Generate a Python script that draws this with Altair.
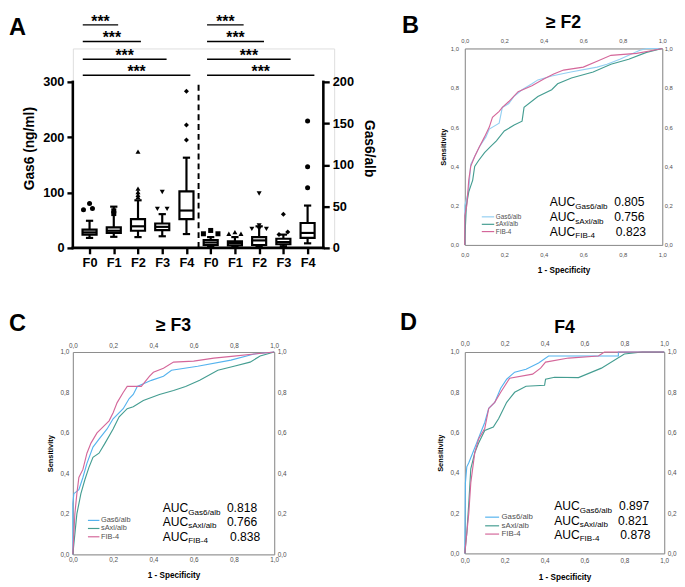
import altair as alt
import pandas as pd

FONT = "Liberation Sans"

# ---------------- Panel A : box plots ----------------
stages = ["F0", "F1", "F2", "F3", "F4"]

# Gas6 (ng/ml)
gas6_low = [18, 20, 19.5, 21, 25]
gas6_q1 = [24, 27, 31, 32, 52]
gas6_med = [28, 31, 39, 38, 67.5]
gas6_q3 = [33, 37, 52, 44, 102]
gas6_high = [49, 74.5, 86, 61, 163]
gas6_shapes = ["circle", "square", "triangle-up", "triangle-down", "diamond"]
gas6_out_stage = ["F0", "F0", "F0", "F1", "F1", "F2", "F2", "F2", "F2", "F2",
                  "F3", "F3", "F3", "F4", "F4", "F4"]
gas6_out_val = [69, 71, 80, 62, 67, 92, 96, 101, 107, 174,
                70.5, 70.5, 101, 195, 222, 283]
gas6_out_dx = [-0.25, 0.12, 0, 0, 0, 0, 0, 0, 0, 0,
               -0.2, 0.2, 0, 0, 0, 0]

# Gas6/alb
alb_low = [1, 1.5, 1.5, 2, 5.5]
alb_q1 = [3.5, 3, 3.5, 4.4, 12]
alb_med = [6.5, 6, 9, 7, 18]
alb_q3 = [9.5, 8, 13, 11, 30]
alb_high = [13, 13, 26, 16, 51]
alb_shapes = ["square", "triangle-up", "triangle-down", "diamond", "circle"]
alb_out_stage = ["F0", "F0", "F0", "F1", "F1", "F1", "F2", "F2", "F2", "F2", "F2",
                 "F3", "F3", "F3", "F4", "F4", "F4"]
alb_out_val = [17, 21, 17, 17, 19, 17, 23, 23, 23, 27, 65.5,
               16, 19, 40.6, 72.5, 97.8, 153]
alb_out_dx = [-0.3, 0, 0.3, -0.25, 0, 0.25, -0.3, 0, 0.3, 0, 0,
              -0.18, 0.18, 0, 0, 0, 0]

# axis ranges
gas6_max = 300
alb_max = 200
gas6_ticks = [0, 100, 200, 300]
alb_ticks = [0, 50, 100, 150, 200]

# significance brackets (drawn above the Gas6 axis, in Gas6 units)
sig_left_start = -0.28
sig_left_end = [1.18, 2.12, 3.18, 4.16]
sig_right_start = 4.85
sig_right_end = [6.36, 7.2, 8.3, 9.28]
sig_levels = [403, 373, 341, 312]
sig_text = "***"

# ---------------- ROC data ----------------
series = ["Gas6/alb", "sAxl/alb", "FIB-4"]
auc_label = "AUC"

# >= F2
b_gas6_fpr = [0, 0, 0.01, 0.02, 0.03, 0.05, 0.074, 0.107, 0.124, 0.174, 0.19, 0.223, 0.248,
              0.29, 0.34, 0.37, 0.44, 0.537, 0.67, 0.72, 0.785, 0.884, 0.92, 1.0]
b_gas6_tpr = [0, 0.2, 0.24, 0.28, 0.41, 0.45, 0.5, 0.55, 0.59, 0.62, 0.7, 0.72, 0.755,
              0.79, 0.82, 0.84, 0.86, 0.88, 0.905, 0.92, 0.945, 0.99, 1.0, 1.0]
b_saxl_fpr = [0, 0, 0.008, 0.02, 0.04, 0.05, 0.07, 0.1, 0.13, 0.16, 0.2, 0.25, 0.29, 0.3,
              0.37, 0.44, 0.47, 0.54, 0.65, 0.74, 0.83, 0.92, 1.0]
b_saxl_tpr = [0, 0.03, 0.2, 0.27, 0.33, 0.4, 0.43, 0.47, 0.5, 0.53, 0.58, 0.61, 0.63, 0.7,
              0.755, 0.79, 0.82, 0.85, 0.88, 0.92, 0.945, 0.98, 1.0]
b_fib4_fpr = [0, 0, 0.01, 0.02, 0.03, 0.05, 0.074, 0.1, 0.124, 0.14, 0.174, 0.19, 0.223,
              0.27, 0.34, 0.4, 0.45, 0.5, 0.6, 0.67, 0.74, 0.87, 0.95, 1.0]
b_fib4_tpr = [0, 0.15, 0.2, 0.33, 0.4, 0.45, 0.5, 0.55, 0.6, 0.65, 0.68, 0.7, 0.73,
              0.78, 0.81, 0.845, 0.87, 0.89, 0.905, 0.935, 0.965, 0.975, 0.99, 1.0]
b_auc = ["0.805", "0.756", "0.823"]

# >= F3
c_gas6_fpr = [0, 0, 0.005, 0.03, 0.05, 0.07, 0.1, 0.13, 0.17, 0.2, 0.25, 0.28, 0.3, 0.32,
              0.39, 0.45, 0.49, 0.62, 0.785, 0.9, 1.0]
c_gas6_tpr = [0, 0.25, 0.3, 0.32, 0.38, 0.45, 0.53, 0.57, 0.62, 0.67, 0.72, 0.77, 0.79, 0.83,
              0.86, 0.88, 0.91, 0.93, 0.96, 0.99, 1.0]
c_saxl_fpr = [0, 0.01, 0.02, 0.04, 0.06, 0.08, 0.1, 0.13, 0.16, 0.2, 0.23, 0.27, 0.3, 0.35,
              0.43, 0.5, 0.56, 0.63, 0.72, 0.8, 0.88, 0.93, 1.0]
c_saxl_tpr = [0, 0.1, 0.2, 0.3, 0.37, 0.43, 0.48, 0.5, 0.55, 0.62, 0.68, 0.72, 0.73, 0.76,
              0.79, 0.81, 0.83, 0.86, 0.91, 0.93, 0.95, 0.98, 1.0]
c_fib4_fpr = [0, 0.005, 0.01, 0.02, 0.03, 0.05, 0.07, 0.09, 0.12, 0.15, 0.18, 0.2, 0.22,
              0.25, 0.27, 0.34, 0.38, 0.4, 0.45, 0.5, 0.6, 0.7, 0.8, 0.9, 1.0]
c_fib4_tpr = [0, 0.1, 0.2, 0.3, 0.38, 0.42, 0.5, 0.55, 0.6, 0.63, 0.66, 0.7, 0.75,
              0.8, 0.83, 0.83, 0.88, 0.9, 0.92, 0.95, 0.955, 0.97, 0.98, 0.99, 1.0]
c_auc = ["0.818", "0.766", "0.838"]

# F4
d_gas6_fpr = [0, 0.003, 0.01, 0.02, 0.04, 0.06, 0.08, 0.1, 0.12, 0.15, 0.18, 0.21, 0.25,
              0.307, 0.37, 0.42, 0.5, 0.77, 0.77, 1.0]
d_gas6_tpr = [0, 0.35, 0.43, 0.45, 0.5, 0.55, 0.6, 0.65, 0.72, 0.75, 0.82, 0.865, 0.9,
              0.914, 0.946, 0.98, 0.98, 0.98, 1.0, 1.0]
d_saxl_fpr = [0, 0.01, 0.02, 0.03, 0.05, 0.07, 0.1, 0.143, 0.17, 0.21, 0.25, 0.307, 0.4,
              0.405, 0.45, 0.57, 0.685, 0.8, 0.89, 1.0]
d_saxl_tpr = [0, 0.1, 0.25, 0.42, 0.5, 0.55, 0.61, 0.628, 0.67, 0.75, 0.8, 0.83, 0.835,
              0.865, 0.875, 0.873, 0.92, 0.99, 1.0, 1.0]
d_fib4_fpr = [0, 0.01, 0.02, 0.03, 0.05, 0.07, 0.1, 0.12, 0.15, 0.18, 0.225, 0.34, 0.38,
              0.405, 0.52, 0.67, 0.7, 1.0]
d_fib4_tpr = [0, 0.1, 0.2, 0.35, 0.5, 0.57, 0.62, 0.72, 0.75, 0.8, 0.87, 0.89, 0.92,
              0.95, 0.97, 0.98, 1.0, 1.0]
d_auc = ["0.897", "0.821", "0.878"]

roc_ticks = [0, 0.2, 0.4, 0.6, 0.8, 1.0]

# ---------------- Panel A construction ----------------
HALF = 0.29
CAP = 0.15
LW = 2.2
A_W, A_H = 266, 203             # layout box of panel A
X_LO, X_HI = -0.69, 9.65        # drawn x extent (left axis .. right axis)
X_BOX_HI = X_LO + (X_HI - X_LO) * A_W / 255.0
Y_BOX_HI = gas6_max * A_H / 169.0
RATIO = gas6_max / alb_max      # right-axis units -> left-axis units

xs = alt.Scale(domain=[X_LO, X_BOX_HI], nice=False, zero=False)
ys = alt.Scale(domain=[0, Y_BOX_HI], nice=False, zero=False)

tick_common = dict(grid=False, domain=False, ticks=True, tickColor="#000000",
                   tickWidth=2.4, tickSize=6, labelFont=FONT, labelFontWeight="bold",
                   labelFontSize=13, labelColor="#000000", labelPadding=3,
                   labelOverlap=False, labelFlush=False, labelBound=False,
                   titleFont=FONT, titleFontWeight="bold", titleFontSize=14,
                   titleColor="#000000")

x_axis = alt.Axis(values=list(range(10)),
                  labelExpr="datum.value < 5 ? 'F' + datum.value : 'F' + (datum.value - 5)",
                  title=None, orient="bottom", **tick_common)
yl_axis = alt.Axis(values=gas6_ticks, title="Gas6 (ng/ml)", titlePadding=6,
                   orient="left", **tick_common)
yr_axis = alt.Axis(values=[v * RATIO for v in alb_ticks],
                   labelExpr=f"format(datum.value / {RATIO}, 'd')",
                   title="Gas6/alb", titlePadding=8, orient="right", titleAngle=90,
                   offset=255 - A_W, **tick_common)


def box_df(low, q1, med, q3, high, offset, scale):
    return pd.DataFrame({"stage": stages, "pos": [i + offset for i in range(5)],
                         "low": low, "q1": q1, "med": med, "q3": q3, "high": high,
                         "k": [scale] * 5})


def out_df(stage_list, vals, dxs, shapes, offset, scale):
    idx = {s: i for i, s in enumerate(stages)}
    return pd.DataFrame({
        "pos": [idx[s] + offset + d for s, d in zip(stage_list, dxs)],
        "val": vals,
        "shape": [shapes[idx[s]] for s in stage_list],
        "k": [scale] * len(vals),
    })


left_box = box_df(gas6_low, gas6_q1, gas6_med, gas6_q3, gas6_high, 0, 1.0)
right_box = box_df(alb_low, alb_q1, alb_med, alb_q3, alb_high, 5, RATIO)
all_box = pd.concat([left_box, right_box], ignore_index=True)
all_out = pd.concat([
    out_df(gas6_out_stage, gas6_out_val, gas6_out_dx, gas6_shapes, 0, 1.0),
    out_df(alb_out_stage, alb_out_val, alb_out_dx, alb_shapes, 5, RATIO),
], ignore_index=True)

boxbase = alt.Chart(all_box).transform_calculate(
    lo="datum.low * datum.k", hi="datum.high * datum.k", a="datum.q1 * datum.k",
    b="datum.q3 * datum.k", m="datum.med * datum.k",
    b0=f"datum.pos - {HALF}", b1=f"datum.pos + {HALF}",
    c0=f"datum.pos - {CAP}", c1=f"datum.pos + {CAP}")

# axis lines (left, right, bottom) drawn on the same scales; this layer carries the axes
axis_lines = pd.DataFrame({"x0": [X_LO, X_HI, X_LO], "x1": [X_LO, X_HI, X_HI],
                           "y0": [0, 0, 0], "y1": [gas6_max, gas6_max, 0]})
axlines = alt.Chart(axis_lines).mark_rule(color="#000000", strokeWidth=2.6,
                                          strokeCap="square").encode(
    x=alt.X("x0:Q", scale=xs, axis=x_axis), x2="x1:Q",
    y=alt.Y("y0:Q", scale=ys, axis=yl_axis), y2="y1:Q")

whisk = boxbase.mark_rule(color="black", strokeWidth=LW).encode(
    x=alt.X("pos:Q", scale=xs, axis=None),
    y=alt.Y("lo:Q", scale=ys, axis=yr_axis), y2="hi:Q")
cap_lo = boxbase.mark_rule(color="black", strokeWidth=LW).encode(
    x=alt.X("c0:Q", scale=xs, axis=None), x2="c1:Q",
    y=alt.Y("lo:Q", scale=ys, axis=None))
cap_hi = boxbase.mark_rule(color="black", strokeWidth=LW).encode(
    x=alt.X("c0:Q", scale=xs, axis=None), x2="c1:Q",
    y=alt.Y("hi:Q", scale=ys, axis=None))
box = boxbase.mark_rect(fill="white", stroke="black", strokeWidth=LW).encode(
    x=alt.X("b0:Q", scale=xs, axis=None), x2="b1:Q",
    y=alt.Y("a:Q", scale=ys, axis=None), y2="b:Q")
med = boxbase.mark_rule(color="black", strokeWidth=LW).encode(
    x=alt.X("b0:Q", scale=xs, axis=None), x2="b1:Q",
    y=alt.Y("m:Q", scale=ys, axis=None))
pts = alt.Chart(all_out).transform_calculate(v="datum.val * datum.k").mark_point(
    filled=True, size=26, color="black", opacity=1).encode(
    x=alt.X("pos:Q", scale=xs, axis=None),
    y=alt.Y("v:Q", scale=ys, axis=None),
    shape=alt.Shape("shape:N", scale=None))

sig_df = pd.DataFrame({
    "start": [sig_left_start] * 4 + [sig_right_start] * 4,
    "end": sig_left_end + sig_right_end,
    "level": sig_levels + sig_levels,
    "t": [sig_text] * 8,
})
sig_df["mid"] = (sig_df["start"] + sig_df["end"]) / 2

sig_rules = alt.Chart(sig_df).mark_rule(color="black", strokeWidth=1.5).encode(
    x=alt.X("start:Q", scale=xs, axis=None), x2="end:Q",
    y=alt.Y("level:Q", scale=ys, axis=None))
sig_texts = alt.Chart(sig_df).mark_text(font=FONT, fontWeight="bold", fontSize=16,
                                        baseline="alphabetic", dy=2, color="black").encode(
    x=alt.X("mid:Q", scale=xs, axis=None),
    y=alt.Y("level:Q", scale=ys, axis=None), text="t:N")

divider = alt.Chart(pd.DataFrame({"x": [4.5], "y0": [0], "y1": [gas6_max]})).mark_rule(
    color="black", strokeWidth=2, strokeDash=[6, 4]).encode(
    x=alt.X("x:Q", scale=xs, axis=None),
    y=alt.Y("y0:Q", scale=ys, axis=None), y2="y1:Q")


def letter_layer(letter, x, y, size=24):
    return alt.Chart(pd.DataFrame({"t": [letter]})).mark_text(
        font=FONT, fontWeight="bold", fontSize=size, align="left", baseline="middle",
        color="black").encode(text="t:N", x=alt.value(x), y=alt.value(y))


panel_a = alt.layer(
    axlines, whisk, cap_hi, cap_lo, box, med, pts, divider, sig_rules, sig_texts,
    letter_layer("A", -65, -21)
).resolve_axis(x="independent", y="independent").properties(width=A_W, height=A_H)


# ---------------- ROC panels ----------------
def roc_axis(orient, pad, fs, title=None, tfs=8.3, tpad=6):
    return alt.Axis(orient=orient, values=roc_ticks,
                    labelExpr="replace(format(datum.value, '.1f'), '.', ',')",
                    grid=False, ticks=False, domainColor="#8c8c8c", domainWidth=1,
                    labelFont=FONT, labelFontSize=fs, labelColor="#505050", labelPadding=pad,
                    labelFlush=False, labelOverlap=False, labelBound=False,
                    title=title, titleFont=FONT, titleFontWeight="bold", titleFontSize=tfs,
                    titleColor="black", titlePadding=tpad)


def roc_panel(curves, colors, title, letter, aucs, w, h, tick_fs, pads, xtpad, ytpad,
              auc_x, auc_vx, auc_y, leg_x0, leg_x1, leg_tx, leg_y, leg_fs,
              title_y, letter_x, letter_y):
    sx = alt.Scale(domain=[0, 1], nice=False, zero=False)
    sy = alt.Scale(domain=[0, 1], nice=False, zero=False)
    rows = []
    for s, col, (fx, ty) in zip(series, colors, curves):
        for i, (a, b) in enumerate(zip(fx, ty)):
            rows.append({"series": s, "col": col, "i": i, "fpr": a, "tpr": b})
    cdf = pd.DataFrame(rows)
    lines = alt.Chart(cdf).mark_line(strokeWidth=1.15).encode(
        x=alt.X("fpr:Q", scale=sx, axis=roc_axis("bottom", pads[0], tick_fs,
                                                   "1 - Specificity", 8.3, xtpad)),
        y=alt.Y("tpr:Q", scale=sy, axis=roc_axis("left", pads[2], tick_fs,
                                                  "Sensitivity", 7.6, ytpad)),
        color=alt.Color("col:N", scale=None),
        detail="series:N",
        order="i:Q")
    ldf = pd.DataFrame({"series": series, "col": colors, "x0": [leg_x0] * 3,
                        "x1": [leg_x1] * 3, "tx": [leg_tx] * 3, "y": leg_y})
    leg_rules = alt.Chart(ldf).mark_rule(strokeWidth=1.2).encode(
        x=alt.X("x0:Q", scale=sx, axis=roc_axis("top", pads[1], tick_fs)), x2="x1:Q",
        y=alt.Y("y:Q", scale=sy, axis=roc_axis("right", pads[3], tick_fs)),
        color=alt.Color("col:N", scale=None))
    leg_text = alt.Chart(ldf).mark_text(font=FONT, fontSize=leg_fs, color="#505050",
                                        align="left", baseline="middle").encode(
        x=alt.X("tx:Q", scale=sx, axis=None), y=alt.Y("y:Q", scale=sy, axis=None),
        text="series:N")
    adf = pd.DataFrame({"main": [auc_label] * 3, "sub": series, "val": aucs,
                        "x": [auc_x] * 3, "vx": auc_vx, "y": auc_y})
    auc_main = alt.Chart(adf).mark_text(font=FONT, fontSize=12.3, color="black",
                                        align="left", baseline="middle").encode(
        x=alt.X("x:Q", scale=sx, axis=None), y=alt.Y("y:Q", scale=sy, axis=None),
        text="main:N")
    auc_sub = alt.Chart(adf).mark_text(font=FONT, fontSize=8.2, color="black",
                                       align="left", baseline="middle", dx=26, dy=4.5).encode(
        x=alt.X("x:Q", scale=sx, axis=None), y=alt.Y("y:Q", scale=sy, axis=None),
        text="sub:N")
    auc_val = alt.Chart(adf).mark_text(font=FONT, fontSize=12.3, color="black",
                                       align="left", baseline="middle").encode(
        x=alt.X("vx:Q", scale=sx, axis=None), y=alt.Y("y:Q", scale=sy, axis=None),
        text="val:N")
    ttl = alt.Chart(pd.DataFrame({"t": [title]})).mark_text(
        font=FONT, fontWeight="bold", fontSize=18, align="center", baseline="middle",
        color="black").encode(text="t:N", x=alt.value(w / 2), y=alt.value(title_y))
    return alt.layer(lines, leg_rules, leg_text, auc_main, auc_sub, auc_val, ttl,
                     letter_layer(letter, letter_x, letter_y)).resolve_axis(
        x="independent", y="independent").properties(width=w, height=h)


colors_b = ["#93cff2", "#449d91", "#d4679a"]
colors_cd = ["#55b3ee", "#449d91", "#d4679a"]

panel_b = roc_panel(
    [(b_gas6_fpr, b_gas6_tpr), (b_saxl_fpr, b_saxl_tpr), (b_fib4_fpr, b_fib4_tpr)],
    colors_b, "≥ F2", "B", b_auc, 201, 200, 6, (7, 5.5, 6.5, 2), 8, 3,
    0.43, [0.757, 0.757, 0.765], [0.216, 0.141, 0.068],
    0.086, 0.149, 0.157, [0.143, 0.105, 0.068], 6.5, -26, -64, -23)

panel_c = roc_panel(
    [(c_gas6_fpr, c_gas6_tpr), (c_saxl_fpr, c_saxl_tpr), (c_fib4_fpr, c_fib4_tpr)],
    colors_cd, "≥ F3", "C", c_auc, 205, 206, 6.5, (2.5, 4, 4, 3), 7.5, 6,
    0.446, [0.765, 0.765, 0.78], [0.228, 0.160, 0.087],
    0.075, 0.132, 0.14, [0.168, 0.128, 0.087], 7.5, -26, -65, -28)

panel_d = roc_panel(
    [(d_gas6_fpr, d_gas6_tpr), (d_saxl_fpr, d_saxl_tpr), (d_fib4_fpr, d_fib4_tpr)],
    colors_cd, "F4", "D", d_auc, 203, 205, 6.5, (4, 6, 6, 3), 9.5, 5.3,
    0.448, [0.773, 0.768, 0.78], [0.234, 0.161, 0.093],
    0.102, 0.172, 0.184, [0.180, 0.137, 0.096], 8, -24, -66, -29)

chart = alt.concat(
    panel_a, panel_b, panel_c, panel_d, columns=2,
    spacing={"row": 106, "column": 133}, bounds="flush",
    align={"row": "each", "column": "none"},
).properties(padding=0).configure_view(stroke="transparent", strokeWidth=0).configure(
    font=FONT)

chart.save("out.html", embed_options={"renderer": "svg", "actions": False})
